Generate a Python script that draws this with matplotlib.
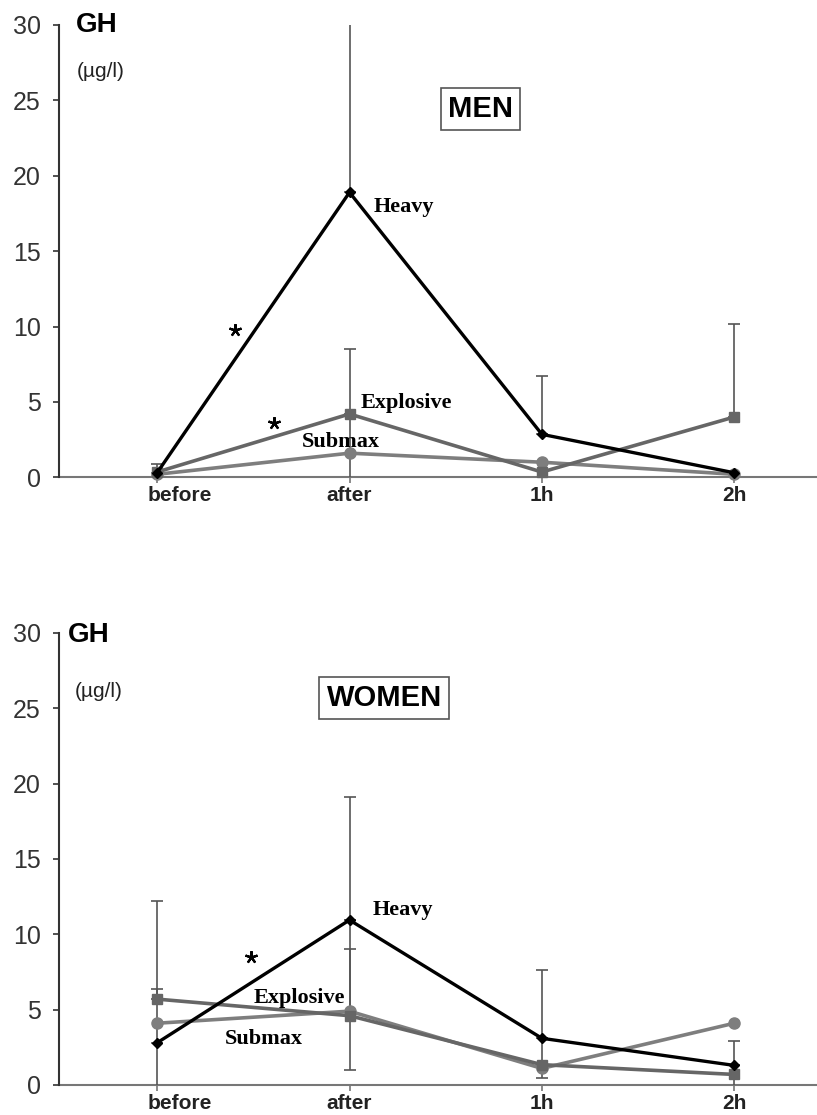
import numpy as np
import matplotlib
matplotlib.use("Agg")
import matplotlib.pyplot as plt
from matplotlib.transforms import ScaledTranslation

plt.rcParams['font.family'] = ['Liberation Sans', 'DejaVu Sans']

categories = ["before", "after", "1h", "2h"]

# MEN (top panel)
men_heavy = [0.3, 18.9, 2.85, 0.3]
men_explosive = [0.35, 4.2, 0.35, 4.0]
men_submax = [0.2, 1.6, 1.0, 0.2]
men_heavy_upper = [0.9, 30.2, 6.7, np.nan]
men_explosive_upper = [np.nan, 8.5, np.nan, 10.2]
men_explosive_lower = [np.nan, 0.0, np.nan, np.nan]

# WOMEN (bottom panel)
women_heavy = [2.8, 10.95, 3.1, 1.3]
women_explosive = [5.7, 4.6, 1.35, 0.7]
women_submax = [4.1, 4.9, 1.1, 4.1]
women_heavy_upper = [12.2, 19.1, 7.6, 2.9]
women_heavy_lower = [0.0, 1.0, 0.45, 0.0]
women_heavy_lower_cap = [False, True, True, False]
women_explosive_upper = [6.4, 9.0, np.nan, np.nan]

yticks = [0, 5, 10, 15, 20, 25, 30]

W, H = 817, 1115
fig = plt.figure(figsize=(W / 100, H / 100), dpi=100)

def px_axes(x0, x1, ytop, ybot):
    return fig.add_axes([x0 / W, 1 - ybot / H, (x1 - x0) / W, (ybot - ytop) / H])

ax_top = px_axes(59, 817, 25, 477.3)
ax_bot = px_axes(59, 817, 633, 1085)

x = np.arange(len(categories))
C_HEAVY = "#000000"
C_EXPL = "#666666"
C_SUB = "#7e7e7e"
C_ERR = "#555555"


def err_up(ax, vals, upper, cap=True):
    v = np.array(vals, float)
    u = np.array(upper, float)
    m = ~np.isnan(u)
    if m.any():
        ax.errorbar(x[m], v[m], yerr=[np.zeros(m.sum()), u[m] - v[m]], fmt='none',
                    ecolor=C_ERR, elinewidth=1.2, capsize=4 if cap else 0,
                    capthick=1.2, zorder=2)


def err_down(ax, vals, lower, caps):
    v = np.array(vals, float)
    lo = np.array(lower, float)
    for i in range(len(v)):
        if np.isnan(lo[i]):
            continue
        ax.errorbar([x[i]], [v[i]], yerr=[[v[i] - lo[i]], [0]], fmt='none',
                    ecolor=C_ERR, elinewidth=1.2, capsize=4 if caps[i] else 0,
                    capthick=1.2, zorder=2)


def style(ax):
    ax.set_xlim(-0.51, 3.43)
    ax.set_ylim(0, 30)
    ax.set_yticks(yticks)
    ax.set_yticklabels([str(t) for t in yticks])
    ax.set_xticks(x)
    ax.set_xticklabels(categories, fontsize=15, fontweight='bold', color='#222222')
    for s in ['top', 'right']:
        ax.spines[s].set_visible(False)
    ax.spines['left'].set_color('#333333')
    ax.spines['left'].set_linewidth(1.5)
    ax.spines['bottom'].set_color('#777777')
    ax.spines['bottom'].set_linewidth(1.5)
    ax.spines['bottom'].set_zorder(1)
    ax.tick_params(axis='y', labelsize=18, labelcolor='#333333', color='#333333',
                   length=4, width=1.2, pad=9)
    ax.tick_params(axis='x', color='#777777', length=4.5, width=1.2, pad=2)
    lab = ax.get_xticklabels()[0]
    lab.set_transform(lab.get_transform() + ScaledTranslation(0.23, 0, fig.dpi_scale_trans))
    ax.patch.set_alpha(0)


def draw_lines(ax, heavy, expl, sub):
    ax.plot(x, sub, color=C_SUB, lw=2.6, marker='o', ms=8, zorder=3, clip_on=False)
    ax.plot(x, expl, color=C_EXPL, lw=2.6, marker='s', ms=7, zorder=4, clip_on=False)
    ax.plot(x, heavy, color=C_HEAVY, lw=2.4, marker='D', ms=5.5, zorder=5, clip_on=False)


serif = dict(family=['Liberation Serif', 'DejaVu Serif'], fontweight='bold', fontsize=16)
box = dict(boxstyle='square,pad=0.25', fc='white', ec='#555555', lw=1.2)

# ---- MEN ----
ax = ax_top
err_up(ax, men_heavy, men_heavy_upper)
err_up(ax, men_explosive, men_explosive_upper)
err_down(ax, men_explosive, men_explosive_lower, [False] * 4)
draw_lines(ax, men_heavy, men_explosive, men_submax)
style(ax)
ax.text(-0.42, 30.0, "GH", fontsize=20, fontweight='bold', ha='left', va='center')
ax.text(-0.42, 26.9, "(µg/l)", fontsize=15, ha='left', va='center', color='#222222')
ax.text(1.68, 24.44, "MEN", fontsize=21, fontweight='bold', ha='center', va='center', bbox=box)
ax.text(1.123, 17.6, "Heavy", ha='left', va='baseline', **serif)
ax.text(1.056, 4.58, "Explosive", ha='left', va='baseline', **serif)
ax.text(0.752, 2.03, "Submax", ha='left', va='baseline', **serif)
ax.plot([0.405, 0.61], [9.8, 3.6], ls='none', marker=(5, 2, 0), ms=9, mew=1.6, color='black')

# ---- WOMEN ----
ax = ax_bot
err_up(ax, women_heavy, women_heavy_upper)
err_up(ax, women_explosive, women_explosive_upper)
err_down(ax, women_heavy, women_heavy_lower, women_heavy_lower_cap)
draw_lines(ax, women_heavy, women_explosive, women_submax)
style(ax)
ax.text(-0.465, 29.9, "GH", fontsize=20, fontweight='bold', ha='left', va='center')
ax.text(-0.43, 26.1, "(µg/l)", fontsize=15, ha='left', va='center', color='#222222')
ax.text(1.18, 25.68, "WOMEN", fontsize=21, fontweight='bold', ha='center', va='center', bbox=box)
ax.text(1.12, 11.28, "Heavy", ha='left', va='baseline', **serif)
ax.text(0.503, 5.46, "Explosive", ha='left', va='baseline', **serif)
ax.text(0.353, 2.72, "Submax", ha='left', va='baseline', **serif)
ax.plot([0.49], [8.5], ls='none', marker=(5, 2, 0), ms=9, mew=1.6, color='black')

fig.savefig("out.png", dpi=100)
